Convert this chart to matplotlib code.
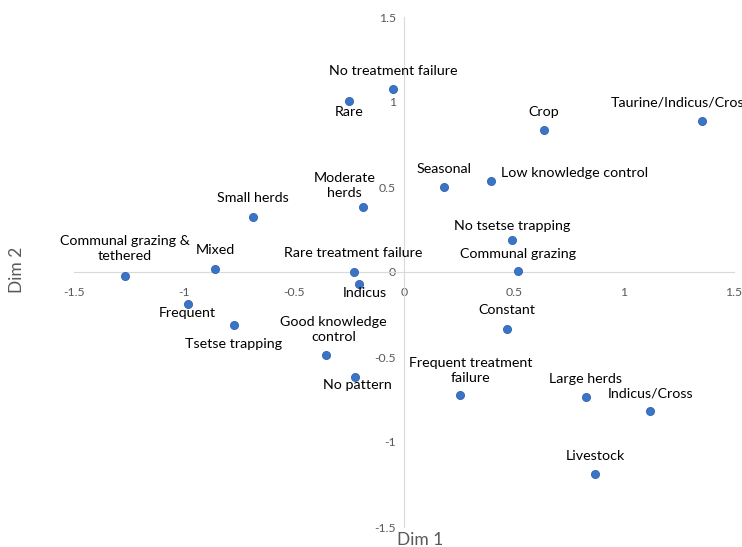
import numpy as np
import matplotlib
matplotlib.use("Agg")
import matplotlib.pyplot as plt

plt.rcParams['font.family'] = ['Lato', 'DejaVu Sans']

# Coordinates of the categories on the first two dimensions
labels = ["No treatment failure", "Rare", "Crop", "Taurine/Indicus/Cross", "Seasonal",
          "Low knowledge control", "Moderate\nherds", "Small herds", "No tsetse trapping",
          "Communal grazing", "Rare treatment failure", "Indicus", "Mixed",
          "Communal grazing &\ntethered", "Frequent", "Tsetse trapping",
          "Good knowledge\ncontrol", "No pattern", "Constant", "Frequent treatment\nfailure",
          "Large herds", "Indicus/Cross", "Livestock"]
dim1 = [-0.048, -0.249, 0.635, 1.355, 0.181, 0.395, -0.185, -0.685, 0.491, 0.517, -0.229,
        -0.203, -0.859, -1.268, -0.983, -0.774, -0.355, -0.221, 0.467, 0.256, 0.826, 1.119, 0.870]
dim2 = [1.075, 1.006, 0.833, 0.890, 0.498, 0.537, 0.384, 0.325, 0.188, 0.004, 0.002,
        -0.073, 0.018, -0.025, -0.187, -0.310, -0.488, -0.616, -0.335, -0.724, -0.733, -0.818, -1.191]

# label placement (pixel offsets from the marker, horizontal alignment)
offsets = [(0, 18, 'center'), (0, -11, 'center'), (0, 18, 'center'), (-21, 18.5, 'center'),
           (0, 18, 'center'), (10.5, 8, 'left'), (-19, 21.5, 'center'), (0, 18.5, 'center'),
           (0, 14.5, 'center'), (0, 17.5, 'center'), (0, 19, 'center'), (5, -9, 'center'),
           (0, 18.5, 'center'), (0, 28, 'center'), (0, -9.5, 'center'), (0, -19.5, 'center'),
           (7.5, 25.5, 'center'), (2, -8.5, 'center'), (0, 18.5, 'center'), (10.5, 25, 'center'),
           (0, 17.5, 'center'), (0, 17.5, 'center'), (0, 18.5, 'center')]

ticks = [-1.5, -1, -0.5, 0, 0.5, 1, 1.5]
tick_labels = ["-1.5", "-1", "-0.5", "0", "0.5", "1", "1.5"]

W, H = 742, 547
fig = plt.figure(figsize=(W / 100, H / 100), dpi=100)
ax = fig.add_axes([74 / W, 20 / H, 660 / W, 510 / H])

ax.scatter(dim1, dim2, s=34, color='#3B74C7', edgecolors='#2F63AE', linewidths=0.6, zorder=3)

for lab, x, y, (dx, dy, ha) in zip(labels, dim1, dim2, offsets):
    ax.annotate(lab, (x, y), xytext=(dx, dy), textcoords='offset pixels',
                ha=ha, va='center', multialignment='center', fontsize=10.3,
                color='black', linespacing=1.3, annotation_clip=False)

ax.set_xlim(-1.5, 1.5)
ax.set_ylim(-1.5, 1.5)
ax.set_xticks(ticks)
ax.set_xticklabels(tick_labels)
ax.set_yticks(ticks)
ax.set_yticklabels(tick_labels)

for side in ['top', 'right']:
    ax.spines[side].set_visible(False)
ax.spines['left'].set_position(('data', 0))
ax.spines['bottom'].set_position(('data', 0))
ax.spines['left'].set_color('#D9D9D9')
ax.spines['bottom'].set_color('#D9D9D9')
ax.tick_params(axis='both', length=0, labelsize=8.8, labelcolor='#595959')
ax.tick_params(axis='x', pad=11)
ax.tick_params(axis='y', pad=6)
for t in ax.get_xticklabels() + ax.get_yticklabels():
    t.set_zorder(1)

fig.text(420 / W, 1 - 540 / H, "Dim 1", ha='center', va='center', fontsize=12.5, color='#595959')
fig.text(17.5 / W, 1 - 270 / H, "Dim 2", ha='center', va='center', rotation=90,
         fontsize=12.5, color='#595959')

fig.savefig("out.png", dpi=100)
